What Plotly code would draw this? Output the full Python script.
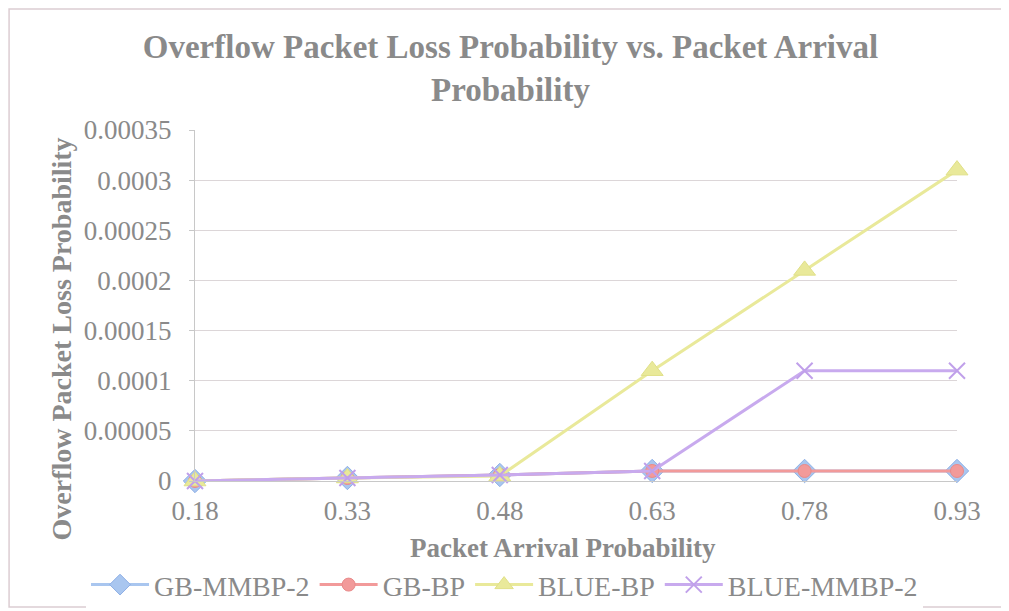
import plotly.graph_objects as go

categories = ["0.18", "0.33", "0.48", "0.63", "0.78", "0.93"]
gb_mmbp2 = [0, 0.000003, 0.000006, 0.00001, 0.00001, 0.00001]
gb_bp = [0, 0.000003, 0.000006, 0.00001, 0.00001, 0.00001]
blue_bp = [0, 0.000003, 0.000005, 0.00011, 0.00021, 0.00031]
blue_mmbp2 = [0, 0.000003, 0.000006, 0.00001, 0.00011, 0.00011]
y_tickvals = [0, 0.00005, 0.0001, 0.00015, 0.0002, 0.00025, 0.0003, 0.00035]
y_ticktext = ["0", "0.00005", "0.0001", "0.00015", "0.0002", "0.00025", "0.0003", "0.00035"]

FONT = "Liberation Serif"
GRAY = "#8a8a8a"

fig = go.Figure()
series = [
    ("GB-MMBP-2", gb_mmbp2, "#a9c6ef", "diamond", 18, "#8fb0e6"),
    ("GB-BP", gb_bp, "#f29a9a", "circle", 13, "#e98a8a"),
    ("BLUE-BP", blue_bp, "#e9e99a", "triangle-up", 19, "#e0e088"),
    ("BLUE-MMBP-2", blue_mmbp2, "#c8aaee", "x-thin", 16, "#c0a0ea"),
]
for name, vals, col, sym, size, lcol in series:
    fig.add_trace(go.Scatter(
        x=categories, y=vals, name=name, mode="lines+markers",
        line=dict(color=col, width=3),
        marker=dict(symbol=sym, size=size, color=col,
                    line=dict(color=lcol, width=2 if sym == "x-thin" else 1)),
        cliponaxis=False,
    ))

fig.update_layout(
    width=1009, height=611,
    margin=dict(l=187, r=60, t=122, b=138, autoexpand=False),
    paper_bgcolor="white", plot_bgcolor="white",
    font=dict(family=FONT, color=GRAY),
    title=dict(
        text="<b>Overflow Packet Loss Probability vs. Packet Arrival<br>Probability</b>",
        x=0.498, xanchor="center", y=0.918, yanchor="top",
        font=dict(size=33, color=GRAY, family=FONT),
    ),
    showlegend=True,
    legend=dict(
        orientation="h", x=-0.143, xanchor="left", y=-0.296, yanchor="middle",
        font=dict(size=28, color=GRAY, family=FONT),
        itemwidth=58, tracegroupgap=0, traceorder="normal",
    ),
    shapes=[dict(type="rect", xref="paper", yref="paper",
                 x0=-0.244, x1=1.2, y0=-0.359, y1=1.345,
                 line=dict(color="#dccdd2", width=1.5))],
    annotations=[
        dict(text="<b>Packet Arrival Probability</b>", xref="paper", yref="paper",
             x=0.483, y=-0.19, xanchor="center", yanchor="middle", showarrow=False,
             font=dict(size=27, color=GRAY, family=FONT)),
        dict(text="<b>Overflow Packet Loss Probability</b>", xref="paper", yref="paper",
             x=-0.175, y=0.405, xanchor="center", yanchor="middle", showarrow=False,
             textangle=-90, font=dict(size=28, color=GRAY, family=FONT)),
    ],
)
fig.update_xaxes(
    type="category", range=[0, 5],
    showgrid=False, showline=True, linecolor="#c8c8c8", linewidth=1,
    ticks="", tickfont=dict(size=27, color=GRAY, family=FONT),
    ticklabelstandoff=6,
)
fig.update_yaxes(
    range=[0, 0.00035], tickvals=y_tickvals, ticktext=y_ticktext,
    showgrid=True, gridcolor="#dcd6d8", gridwidth=1,
    showline=True, linecolor="#c8c8c8", linewidth=1,
    ticks="outside", ticklen=5, tickcolor="#c8c8c8",
    tickfont=dict(size=27, color=GRAY, family=FONT), ticklabelstandoff=12,
    zeroline=False,
)

fig.write_html("out.html")
